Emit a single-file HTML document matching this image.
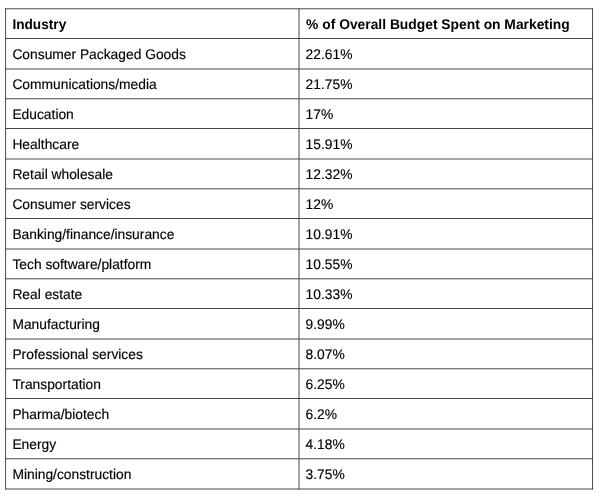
<!DOCTYPE html>
<html><head><meta charset="utf-8"><style>
html,body{margin:0;padding:0;background:#fff;}
body{width:600px;height:497px;overflow:hidden;}
svg{display:block;will-change:transform;}
text{text-rendering:geometricPrecision;font-family:"Liberation Sans",Arial,Helvetica,sans-serif;font-size:14px;fill:#000;stroke:#000;stroke-width:0.15px;}
.h{font-weight:bold;stroke:none;}
</style></head><body>
<svg width="600" height="497" viewBox="0 0 600 497">
<rect width="600" height="497" fill="#fff"/>
<g stroke="#484848" stroke-width="1" fill="none">
<line x1="5.10" y1="8.80" x2="593.05" y2="8.80"/>
<line x1="5.10" y1="38.50" x2="593.05" y2="38.50"/>
<line x1="5.10" y1="69.00" x2="593.05" y2="69.00"/>
<line x1="5.10" y1="98.80" x2="593.05" y2="98.80"/>
<line x1="5.10" y1="128.50" x2="593.05" y2="128.50"/>
<line x1="5.10" y1="159.00" x2="593.05" y2="159.00"/>
<line x1="5.10" y1="188.80" x2="593.05" y2="188.80"/>
<line x1="5.10" y1="218.50" x2="593.05" y2="218.50"/>
<line x1="5.10" y1="249.00" x2="593.05" y2="249.00"/>
<line x1="5.10" y1="278.80" x2="593.05" y2="278.80"/>
<line x1="5.10" y1="308.50" x2="593.05" y2="308.50"/>
<line x1="5.10" y1="339.00" x2="593.05" y2="339.00"/>
<line x1="5.10" y1="368.80" x2="593.05" y2="368.80"/>
<line x1="5.10" y1="398.50" x2="593.05" y2="398.50"/>
<line x1="5.10" y1="429.00" x2="593.05" y2="429.00"/>
<line x1="5.10" y1="458.80" x2="593.05" y2="458.80"/>
<line x1="5.10" y1="489.00" x2="593.05" y2="489.00"/>
<line x1="5.60" y1="8.30" x2="5.60" y2="489.50"/>
<line x1="299.00" y1="8.30" x2="299.00" y2="489.50"/>
<line x1="592.55" y1="8.30" x2="592.55" y2="489.50"/>
</g>
<text class="h" transform="scale(0.975,1)" x="12.72" y="28.80">Industry</text><text class="h" transform="scale(0.988,1)" x="309.82" y="28.80">% of Overall Budget Spent on Marketing</text>
<text transform="scale(0.986,1)" x="12.58" y="58.80">Consumer Packaged Goods</text><text transform="scale(0.986,1)" x="309.94" y="58.80">22.61%</text>
<text transform="scale(0.986,1)" x="12.58" y="88.80">Communications/media</text><text transform="scale(0.986,1)" x="309.94" y="88.80">21.75%</text>
<text transform="scale(0.986,1)" x="12.58" y="118.80">Education</text><text transform="scale(0.986,1)" x="309.94" y="118.80">17%</text>
<text transform="scale(0.986,1)" x="12.58" y="148.80">Healthcare</text><text transform="scale(0.986,1)" x="309.94" y="148.80">15.91%</text>
<text transform="scale(0.986,1)" x="12.58" y="178.80">Retail wholesale</text><text transform="scale(0.986,1)" x="309.94" y="178.80">12.32%</text>
<text transform="scale(0.986,1)" x="12.58" y="208.80">Consumer services</text><text transform="scale(0.986,1)" x="309.94" y="208.80">12%</text>
<text transform="scale(0.986,1)" x="12.58" y="238.80">Banking/finance/insurance</text><text transform="scale(0.986,1)" x="309.94" y="238.80">10.91%</text>
<text transform="scale(0.986,1)" x="12.58" y="268.80">Tech software/platform</text><text transform="scale(0.986,1)" x="309.94" y="268.80">10.55%</text>
<text transform="scale(0.986,1)" x="12.58" y="298.80">Real estate</text><text transform="scale(0.986,1)" x="309.94" y="298.80">10.33%</text>
<text transform="scale(0.986,1)" x="12.58" y="328.80">Manufacturing</text><text transform="scale(0.986,1)" x="309.94" y="328.80">9.99%</text>
<text transform="scale(0.986,1)" x="12.58" y="358.80">Professional services</text><text transform="scale(0.986,1)" x="309.94" y="358.80">8.07%</text>
<text transform="scale(0.986,1)" x="12.58" y="388.80">Transportation</text><text transform="scale(0.986,1)" x="309.94" y="388.80">6.25%</text>
<text transform="scale(0.986,1)" x="12.58" y="418.80">Pharma/biotech</text><text transform="scale(0.986,1)" x="309.94" y="418.80">6.2%</text>
<text transform="scale(0.986,1)" x="12.58" y="448.80">Energy</text><text transform="scale(0.986,1)" x="309.94" y="448.80">4.18%</text>
<text transform="scale(0.986,1)" x="12.58" y="478.80">Mining/construction</text><text transform="scale(0.986,1)" x="309.94" y="478.80">3.75%</text>
</svg>
</body></html>
